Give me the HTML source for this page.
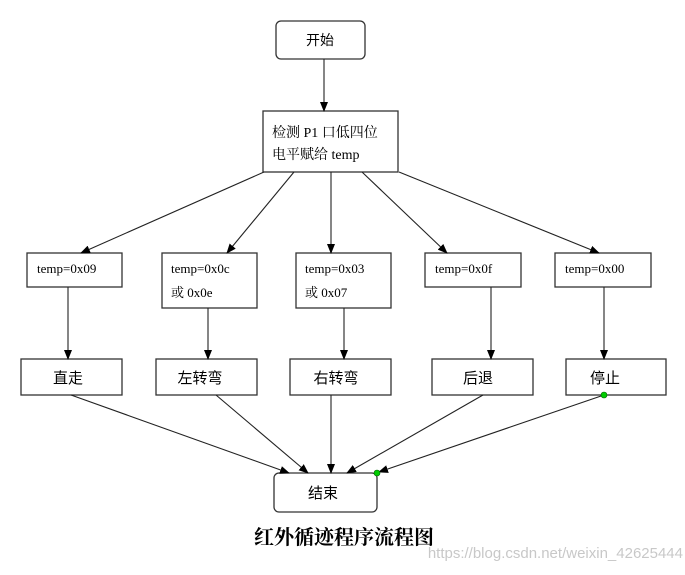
<!DOCTYPE html>
<html><head><meta charset="utf-8"><style>
body{margin:0;background:#fff;width:685px;height:570px;overflow:hidden}
</style></head><body>
<svg width="685" height="570" xmlns="http://www.w3.org/2000/svg">
<defs><marker id="a" markerWidth="10" markerHeight="8" refX="9" refY="4" orient="auto" markerUnits="userSpaceOnUse"><path d="M0,0 L10,4 L0,8 z" fill="#000"/></marker></defs>
<g fill="#fff" stroke="#333" stroke-width="1.3">
<rect x="276" y="21" width="89" height="38" rx="5"/>
<rect x="263" y="111" width="135" height="61"/>
<rect x="27" y="253" width="95" height="34"/>
<rect x="162" y="253" width="95" height="55"/>
<rect x="296" y="253" width="95" height="55"/>
<rect x="425" y="253" width="96" height="34"/>
<rect x="555" y="253" width="96" height="34"/>
<rect x="21" y="359" width="101" height="36"/>
<rect x="156" y="359" width="101" height="36"/>
<rect x="290" y="359" width="101" height="36"/>
<rect x="432" y="359" width="101" height="36"/>
<rect x="566" y="359" width="100" height="36"/>
<rect x="274" y="473" width="103" height="39" rx="5"/>
</g>
<g stroke="#222" stroke-width="1.1" marker-end="url(#a)">
<line x1="324" y1="59" x2="324" y2="111"/>
<line x1="264" y1="172" x2="81" y2="253"/>
<line x1="294" y1="172" x2="227" y2="253"/>
<line x1="331" y1="172" x2="331" y2="253"/>
<line x1="362" y1="172" x2="447" y2="253"/>
<line x1="399" y1="172" x2="599" y2="253"/>
<line x1="68" y1="287" x2="68" y2="359"/>
<line x1="208" y1="308" x2="208" y2="359"/>
<line x1="344" y1="308" x2="344" y2="359"/>
<line x1="491" y1="287" x2="491" y2="359"/>
<line x1="604" y1="287" x2="604" y2="359"/>
<line x1="71" y1="395" x2="289" y2="473"/>
<line x1="216" y1="395" x2="308" y2="473"/>
<line x1="331" y1="395" x2="331" y2="473"/>
<line x1="483" y1="395" x2="347" y2="473"/>
<line x1="604" y1="395" x2="379" y2="472"/>
</g>
<circle cx="604" cy="395" r="3" fill="#0c0" stroke="#060" stroke-width="0.6"/>
<circle cx="377" cy="473" r="3" fill="#0c0" stroke="#060" stroke-width="0.6"/>
<g font-family="Liberation Serif, Noto Serif CJK SC, serif" font-size="14" fill="#000">
<text x="320" y="45" text-anchor="middle" font-family="Liberation Sans, Noto Sans CJK SC, sans-serif">开始</text>
<text x="272" y="137">检测 P1 口低四位</text>
<text x="272" y="159">电平赋给 temp</text>
<text x="37" y="273" font-size="13">temp=0x09</text>
<text x="171" y="273" font-size="13">temp=0x0c</text>
<text x="171" y="297" font-size="13">或 0x0e</text>
<text x="305" y="273" font-size="13">temp=0x03</text>
<text x="305" y="297" font-size="13">或 0x07</text>
<text x="435" y="273" font-size="13">temp=0x0f</text>
<text x="565" y="273" font-size="13">temp=0x00</text>
</g>
<g font-family="Liberation Sans, Noto Sans CJK SC, sans-serif" font-size="15" fill="#000">
<text x="68" y="383" text-anchor="middle">直走</text>
<text x="200" y="383" text-anchor="middle">左转弯</text>
<text x="336" y="383" text-anchor="middle">右转弯</text>
<text x="478" y="383" text-anchor="middle">后退</text>
<text x="605" y="383" text-anchor="middle">停止</text>
<text x="323" y="498" text-anchor="middle">结束</text>
</g>
<text x="344" y="544" text-anchor="middle" font-family="Liberation Serif, Noto Serif CJK SC, serif" font-size="20" font-weight="bold">红外循迹程序流程图</text>
<text x="683" y="558" text-anchor="end" font-family="Liberation Sans, sans-serif" font-size="15" fill="#c8c8c8">https://blog.csdn.net/weixin_42625444</text>
</svg>
</body></html>
